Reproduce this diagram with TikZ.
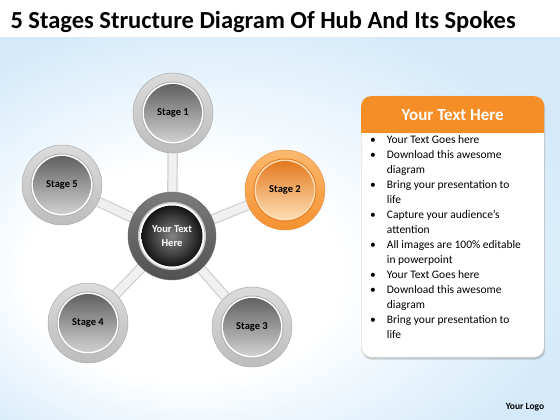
\documentclass[tikz,border=0pt]{standalone}
\usepackage{fontspec}
\setmainfont{Carlito}
\usetikzlibrary{backgrounds,shadows}

\definecolor{bgblue}{RGB}{212,234,250}
\definecolor{ringorange}{RGB}{244,145,48}
\definecolor{paleorange}{RGB}{251,185,110}
\definecolor{lightorange}{RGB}{253,222,180}
\definecolor{deeporange}{RGB}{228,122,32}
\definecolor{headorange}{RGB}{246,142,40}

\pgfdeclareradialshading{bgglow}{\pgfpoint{-12bp}{-8bp}}{color(0bp)=(white); color(14bp)=(white); color(32bp)=(bgblue); color(50bp)=(bgblue)}

\tikzset{
  stage/.style={circle, minimum size=80pt, inner sep=0pt, draw=gray!65, line width=0.5pt,
    top color=gray!28, bottom color=gray!52,
    font=\bfseries\fontsize{10.5}{12}\selectfont,
    path picture={
      \fill[gray!60] (path picture bounding box.center) circle (31.5pt);
      \fill[white] (path picture bounding box.center) circle (30.5pt);
      \shade[top color=black!62, bottom color=black!18] (path picture bounding box.center) circle (29pt);
    }},
  hotstage/.style={stage, draw=deeporange!80, top color=paleorange, bottom color=ringorange,
    path picture={
      \fill[deeporange] (path picture bounding box.center) circle (31.5pt);
      \fill[lightorange] (path picture bounding box.center) circle (30.5pt);
      \shade[top color=deeporange, bottom color=lightorange] (path picture bounding box.center) circle (29pt);
    }},
  hub/.style={circle, minimum size=88pt, inner sep=0pt, draw=black!55,
    top color=black!52, bottom color=black!68, text=white, align=center,
    font=\bfseries\fontsize{10.5}{13.5}\selectfont,
    path picture={
      \fill[gray!40] (path picture bounding box.center) circle (34pt);
      \fill[white] (path picture bounding box.center) circle (32.5pt);
      \shade[inner color=black!48, outer color=black!92] (path picture bounding box.center) circle (30.5pt);
    }},
  spoke/.style={draw=gray!38, line width=1.2pt, double=gray!12, double distance=8pt}
}

\begin{document}
\begin{tikzpicture}[x=1pt, y=-1pt]
  \useasboundingbox (0,0) rectangle (560,420);

  % Nodes
  \node[anchor=base west, font=\bfseries\fontsize{24.5}{28}\selectfont] (title) at (7,29) {5 Stages Structure Diagram Of Hub And Its Spokes};

  \node[hub] (hub) at (172,236) {Your Text\\Here};
  \node[stage] (s1) at (173,113) {Stage 1};
  \node[hotstage] (s2) at (285,190) {Stage 2};
  \node[stage] (s3) at (252,327) {Stage 3};
  \node[stage] (s4) at (88,323) {Stage 4};
  \node[stage] (s5) at (62,185) {Stage 5};

  \node[anchor=north west, minimum width=183pt, minimum height=261pt, fill=white, draw=gray!45,
        rounded corners=10pt, drop shadow={opacity=0.35, shadow xshift=1pt, shadow yshift=-2.5pt}] (panel) at (361,96) {};
  \node[anchor=north, minimum width=183pt, minimum height=37pt, fill=headorange, rounded corners=10pt] (head) at (panel.north) {};
  \fill[headorange] (head.west) rectangle (head.south east);
  \node[text=white, font=\bfseries\fontsize{17}{19}\selectfont] (headtext) at (head.center) {Your Text Here};

  \node[anchor=north west, inner sep=0pt, font=\fontsize{11.5}{15}\selectfont] (list) at (370,133) {%
    \begin{tabular}{@{}l@{\hspace{11pt}}l@{}}
      \textbullet & Your Text Goes here\\
      \textbullet & Download this awesome\\
                  & diagram\\
      \textbullet & Bring your presentation to\\
                  & life\\
      \textbullet & Capture your audience’s\\
                  & attention\\
      \textbullet & All images are 100\% editable\\
                  & in powerpoint\\
      \textbullet & Your Text Goes here\\
      \textbullet & Download this awesome\\
                  & diagram\\
      \textbullet & Bring your presentation to\\
                  & life
    \end{tabular}};

  \node[font=\bfseries\fontsize{9.5}{11}\selectfont] (logo) at (525,407) {Your Logo};

  % Spokes
  \begin{scope}[on background layer]
    \shade[shading=bgglow] (0,38) rectangle (560,420);
    \draw[spoke] (hub) -- (s1);
    \draw[spoke] (hub) -- (s2);
    \draw[spoke] (hub) -- (s3);
    \draw[spoke] (hub) -- (s4);
    \draw[spoke] (hub) -- (s5);
  \end{scope}
\end{tikzpicture}
\end{document}
